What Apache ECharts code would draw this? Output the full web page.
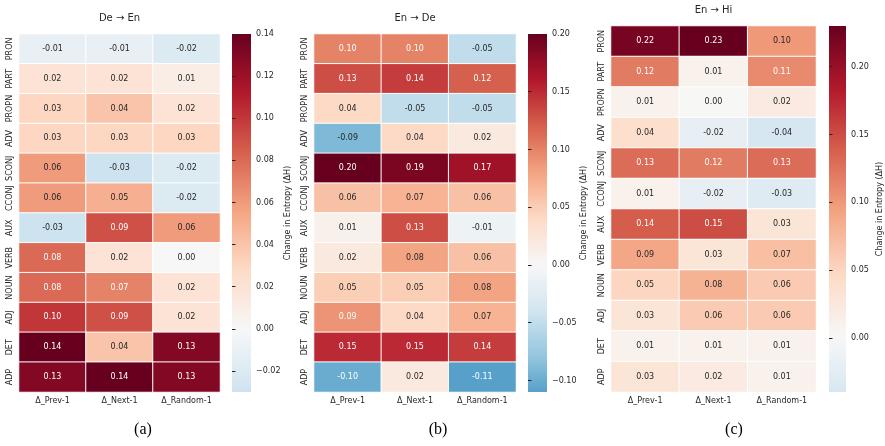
<!DOCTYPE html>
<html>
<head>
<meta charset="utf-8">
<script src="https://cdn.jsdelivr.net/npm/echarts@6/dist/echarts.min.js"></script>
<style>
  html, body { margin: 0; padding: 0; background: #fff; }
  #chart { width: 885px; height: 446px; }
</style>
</head>
<body>
<div id="chart"></div>
<script>
const rows = ['PRON', 'PART', 'PROPN', 'ADV', 'SCONJ', 'CCONJ', 'AUX', 'VERB', 'NOUN', 'ADJ', 'DET', 'ADP']
const cols = ['Δ_Prev-1', 'Δ_Next-1', 'Δ_Random-1']

// values per row, columns: prev, next, random
const deEn = [
  [-0.01, -0.01, -0.02], [0.02, 0.02, 0.01], [0.03, 0.04, 0.02], [0.03, 0.03, 0.03],
  [0.06, -0.03, -0.02], [0.06, 0.05, -0.02], [-0.03, 0.09, 0.06], [0.08, 0.02, 0.00],
  [0.08, 0.07, 0.02], [0.10, 0.09, 0.02], [0.14, 0.04, 0.13], [0.13, 0.14, 0.13]
]
const enDe = [
  [0.10, 0.10, -0.05], [0.13, 0.14, 0.12], [0.04, -0.05, -0.05], [-0.09, 0.04, 0.02],
  [0.20, 0.19, 0.17], [0.06, 0.07, 0.06], [0.01, 0.13, -0.01], [0.02, 0.08, 0.06],
  [0.05, 0.05, 0.08], [0.09, 0.04, 0.07], [0.15, 0.15, 0.14], [-0.10, 0.02, -0.11]
]
const enHi = [
  [0.22, 0.23, 0.10], [0.12, 0.01, 0.11], [0.01, 0.00, 0.02], [0.04, -0.02, -0.04],
  [0.13, 0.12, 0.13], [0.01, -0.02, -0.03], [0.14, 0.15, 0.03], [0.09, 0.03, 0.07],
  [0.05, 0.08, 0.06], [0.03, 0.06, 0.06], [0.01, 0.01, 0.01], [0.03, 0.02, 0.01]
]

const ticksDeEn = [-0.02, 0.00, 0.02, 0.04, 0.06, 0.08, 0.10, 0.12, 0.14]
const ticksEnDe = [-0.10, -0.05, 0.00, 0.05, 0.10, 0.15, 0.20]
const ticksEnHi = [0.00, 0.05, 0.10, 0.15, 0.20]

const titles = ['De → En', 'En → De', 'En → Hi']
const captions = ['(a)', '(b)', '(c)']
const cbLabel = 'Change in Entropy (ΔH)'

// RdBu_r, low -> high
const rdbu_r = ['#053061', '#2166ac', '#4393c3', '#92c5de', '#d1e5f0', '#f7f7f7',
  '#fddbc7', '#f4a582', '#d6604d', '#b2182b', '#67001f']

function hexRgb(h) {
  return [parseInt(h.slice(1, 3), 16), parseInt(h.slice(3, 5), 16), parseInt(h.slice(5, 7), 16)]
}
function cmap(t) {
  t = Math.max(0, Math.min(1, t))
  const p = t * (rdbu_r.length - 1)
  const i = Math.min(Math.floor(p), rdbu_r.length - 2)
  const f = p - i
  const a = hexRgb(rdbu_r[i]), b = hexRgb(rdbu_r[i + 1])
  return a.map((c, k) => c + (b[k] - c) * f)
}
function rgbStr(c) {
  return 'rgb(' + c.map(Math.round).join(',') + ')'
}
function luminance(c) {
  const l = c.map(v => {
    v = v / 255
    return v <= 0.03928 ? v / 12.92 : Math.pow((v + 0.055) / 1.055, 2.4)
  })
  return 0.2126 * l[0] + 0.7152 * l[1] + 0.0722 * l[2]
}

const panels = [
  { data: deEn, ticks: ticksDeEn, hm: [19, 34, 201, 358], cb: [232, 34, 19, 358] },
  { data: enDe, ticks: ticksEnDe, hm: [314, 34, 202, 358], cb: [528, 34, 19, 358] },
  { data: enHi, ticks: ticksEnHi, hm: [611, 26, 205, 366], cb: [829, 26, 19, 366] }
]

const textColor = '#262626'
const grid = [], xAxis = [], yAxis = [], series = [], visualMap = [], title = []

panels.forEach((p, k) => {
  const flat = p.data.flat()
  const vmin = Math.min(...flat), vmax = Math.max(...flat)
  const vr = Math.max(-vmin, vmax)
  const colorAt = v => cmap((v + vr) / (2 * vr))

  // heatmap grid
  grid.push({ left: p.hm[0], top: p.hm[1], width: p.hm[2], height: p.hm[3] })
  xAxis.push({
    type: 'category', gridIndex: 2 * k, data: cols, position: 'bottom',
    axisLine: { show: false },
    axisTick: { alignWithLabel: true, length: 3.5, interval: 0, lineStyle: { color: textColor } },
    axisLabel: { fontSize: 8, color: textColor, margin: 5, interval: 0, fontFamily: 'DejaVu Sans' },
    splitLine: { show: false }
  })
  yAxis.push({
    type: 'category', gridIndex: 2 * k, data: rows, inverse: true,
    axisLine: { show: false },
    axisTick: { alignWithLabel: true, length: 3.5, interval: 0, lineStyle: { color: textColor } },
    axisLabel: { fontSize: 8, color: textColor, rotate: 90, margin: 5, interval: 0, hideOverlap: false, fontFamily: 'DejaVu Sans' },
    splitLine: { show: false }
  })

  const items = []
  p.data.forEach((row, r) => {
    row.forEach((v, c) => {
      items.push({
        value: [c, r, v],
        label: { color: luminance(colorAt(v)) > 0.408 ? textColor : '#ffffff' }
      })
    })
  })
  series.push({
    type: 'heatmap', xAxisIndex: 2 * k, yAxisIndex: 2 * k, data: items,
    itemStyle: { borderColor: '#ffffff', borderWidth: 1 },
    label: {
      show: true, fontSize: 8, fontFamily: 'DejaVu Sans',
      formatter: d => d.value[2].toFixed(2)
    },
    emphasis: { disabled: true }
  })

  const stops = []
  const n = 40
  for (let i = 0; i <= n; i++) stops.push(rgbStr(colorAt(vmin + (vmax - vmin) * i / n)))
  visualMap.push({
    type: 'continuous', show: false, seriesIndex: 2 * k,
    min: vmin, max: vmax, inRange: { color: stops }
  })

  // colorbar grid
  const grad = []
  for (let i = 0; i <= n; i++) {
    grad.push({ offset: i / n, color: rgbStr(colorAt(vmax - (vmax - vmin) * i / n)) })
  }
  grid.push({
    left: p.cb[0], top: p.cb[1], width: p.cb[2], height: p.cb[3],
    show: true, borderWidth: 0,
    backgroundColor: { type: 'linear', x: 0, y: 0, x2: 0, y2: 1, colorStops: grad }
  })
  xAxis.push({ type: 'value', gridIndex: 2 * k + 1, show: false, min: 0, max: 1 })
  yAxis.push({
    type: 'value', gridIndex: 2 * k + 1, position: 'right', min: vmin, max: vmax,
    name: cbLabel, nameLocation: 'middle', nameRotate: 90, nameGap: 30,
    nameTextStyle: { fontSize: 8, color: textColor, fontFamily: 'DejaVu Sans' },
    axisLine: { show: false },
    splitLine: { show: false },
    axisTick: { show: true, length: 3.5, customValues: p.ticks, lineStyle: { color: textColor } },
    axisLabel: {
      fontSize: 8, color: textColor, margin: 5, fontFamily: 'DejaVu Sans',
      customValues: p.ticks,
      formatter: v => (v < -1e-9 ? '\u2212' : '') + Math.abs(v).toFixed(2)
    }
  })
  series.push({ type: 'line', xAxisIndex: 2 * k + 1, yAxisIndex: 2 * k + 1, data: [], silent: true })

  title.push({
    text: titles[k], left: p.hm[0] + p.hm[2] / 2, top: p.hm[1] - 21, textAlign: 'center', padding: 0,
    textStyle: { fontSize: 10, fontWeight: 'normal', color: textColor, fontFamily: 'DejaVu Sans' }
  })
  title.push({
    text: captions[k], left: [143, 438, 734][k], top: 422, textAlign: 'center', padding: 0,
    textStyle: { fontSize: 16, fontWeight: 'normal', color: '#000', fontFamily: 'Liberation Serif' }
  })
})

const chart = echarts.init(document.getElementById('chart'))
chart.setOption({
  animation: false,
  backgroundColor: '#fff',
  title, grid, xAxis, yAxis, series, visualMap
})
</script>
</body>
</html>
